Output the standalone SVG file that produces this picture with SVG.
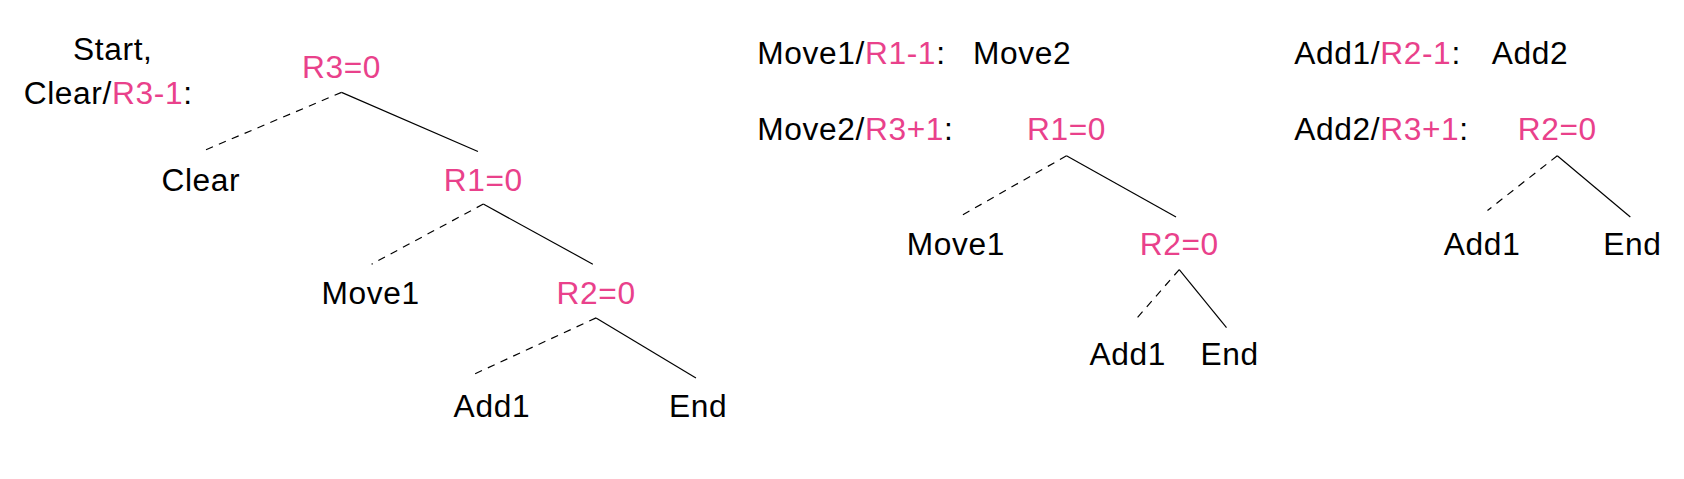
<svg xmlns="http://www.w3.org/2000/svg" width="1684" height="479" viewBox="0 0 1684 479">
<style>
text{font-family:"Liberation Sans",Arial,sans-serif;font-size:29.5px;letter-spacing:0.6px;fill:#000}
.m{text-anchor:middle}
.p{fill:#e9418b}
line{stroke:#000;stroke-width:1.1}
.d{stroke-dasharray:7,6}
</style>
<rect width="1684" height="479" fill="#fff"/>
<g transform="scale(1.074)">
<g id="connectors">
<line class="d" x1="318" y1="86" x2="188" y2="141"/><line x1="318" y1="86" x2="445" y2="141"/>
<line class="d" x1="450" y1="190" x2="346" y2="246"/><line x1="450" y1="190" x2="552" y2="246"/>
<line class="d" x1="555" y1="296" x2="438" y2="350"/><line x1="555" y1="296" x2="648" y2="352"/>
<line class="d" x1="993" y1="145" x2="893" y2="202"/><line x1="993" y1="145" x2="1095" y2="202"/>
<line class="d" x1="1098" y1="251" x2="1057" y2="298"/><line x1="1098" y1="251" x2="1142" y2="305"/>
<line class="d" x1="1450" y1="145" x2="1385" y2="196"/><line x1="1450" y1="145" x2="1518" y2="202"/>
</g>
<g id="label-start"><text class="m" x="105" y="56">Start,</text><text x="22" y="97">Clear/<tspan class="p">R3-1</tspan>:</text></g>
<g id="t1-r3"><text class="m p" x="318" y="73">R3=0</text></g>
<g id="t1-clear"><text class="m" x="187" y="178">Clear</text></g>
<g id="t1-r1"><text class="m p" x="450" y="178">R1=0</text></g>
<g id="t1-move1"><text class="m" x="345" y="283">Move1</text></g>
<g id="t1-r2"><text class="m p" x="555" y="283">R2=0</text></g>
<g id="t1-add1"><text class="m" x="458" y="388">Add1</text></g>
<g id="t1-end"><text class="m" x="650" y="388">End</text></g>
<g id="label-move1"><text x="705" y="60">Move1/<tspan class="p">R1-1</tspan>:<tspan x="906">Move2</tspan></text></g>
<g id="label-move2"><text x="705" y="130">Move2/<tspan class="p">R3+1</tspan>:</text></g>
<g id="t2-r1"><text class="m p" x="993" y="130">R1=0</text></g>
<g id="t2-move1"><text class="m" x="890" y="237">Move1</text></g>
<g id="t2-r2"><text class="m p" x="1098" y="237">R2=0</text></g>
<g id="t2-add1"><text class="m" x="1050" y="340">Add1</text></g>
<g id="t2-end"><text class="m" x="1145" y="340">End</text></g>
<g id="label-add1"><text x="1205" y="60">Add1/<tspan class="p">R2-1</tspan>:<tspan x="1389">Add2</tspan></text></g>
<g id="label-add2"><text x="1205" y="130">Add2/<tspan class="p">R3+1</tspan>:</text></g>
<g id="t3-r2"><text class="m p" x="1450" y="130">R2=0</text></g>
<g id="t3-add1"><text class="m" x="1380" y="237">Add1</text></g>
<g id="t3-end"><text class="m" x="1520" y="237">End</text></g>
</g>
</svg>
